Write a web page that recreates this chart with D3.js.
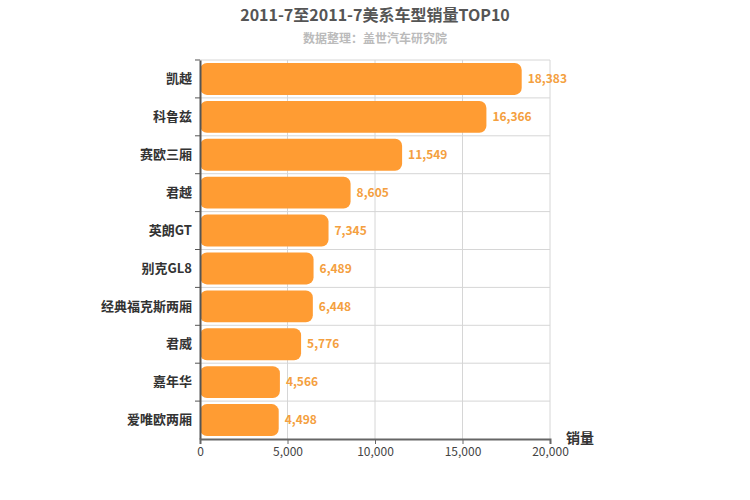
<!DOCTYPE html>
<html><head><meta charset="utf-8">
<script src="https://cdn.jsdelivr.net/npm/d3@7"></script>
<style>body{margin:0;background:#fff}text{font-family:"Noto Sans CJK SC",sans-serif}</style>
</head><body>
<svg width="750" height="500"></svg>
<script>
var models = ["凯越","科鲁兹","赛欧三厢","君越","英朗GT","别克GL8","经典福克斯两厢","君威","嘉年华","爱唯欧两厢"];
var sales = [18383,16366,11549,8605,7345,6489,6448,5776,4566,4498];
var xTicks = [0,5000,10000,15000,20000];

var svg = d3.select("svg"),
    margin = {top: 60, right: 200, bottom: 61, left: 200},
    width = 750 - margin.left - margin.right,
    height = 500 - margin.top - margin.bottom,
    g = svg.append("g").attr("transform", "translate(" + margin.left + "," + margin.top + ")");

var x = d3.scaleLinear().domain([0,20000]).range([0, width]),
    y = d3.scaleBand().domain(models).range([0, height]);

svg.append("text").attr("x", 375).attr("y", 21).attr("text-anchor","middle")
  .style("font-size","16px").style("font-weight","bold").attr("fill","#555")
  .text("2011-7至2011-7美系车型销量TOP10");
svg.append("text").attr("x", 375).attr("y", 43).attr("text-anchor","middle")
  .style("font-size","12px").style("font-weight","bold").attr("fill","#bbb")
  .text("数据整理：盖世汽车研究院");

// grid
g.selectAll(".vg").data(xTicks.slice(1)).enter().append("line")
  .attr("x1", x).attr("x2", x).attr("y1", 0).attr("y2", height)
  .attr("stroke","#d6d6d6");
g.selectAll(".hg").data(models).enter().append("line")
  .attr("x1", 0).attr("x2", width)
  .attr("y1", function(d){ return y(d); }).attr("y2", function(d){ return y(d); })
  .attr("stroke","#d6d6d6");

g.selectAll(".bar").data(sales).enter().append("rect")
  .attr("x", 0)
  .attr("y", function(d,i){ return y(models[i]) + 3; })
  .attr("width", function(d){ return x(d); })
  .attr("height", y.bandwidth() - 6)
  .attr("rx", 7).attr("fill","#ff9c33");

g.selectAll(".val").data(sales).enter().append("text")
  .attr("x", function(d){ return x(d) + 6; })
  .attr("y", function(d,i){ return y(models[i]) + y.bandwidth()/2; })
  .attr("dy","0.35em").style("font-size","12px").style("font-weight","bold")
  .attr("fill","#f4a040").text(d3.format(","));

var ya = g.append("g").call(d3.axisLeft(y).tickSize(5).tickSizeOuter(0));
ya.select(".domain").attr("stroke","#555").attr("stroke-width",2);
ya.selectAll("line").attr("stroke","#555").attr("transform","translate(0," + (-y.bandwidth()/2) + ")");
ya.selectAll("text").style("font-size","13px").style("font-weight","bold").attr("fill","#333");

var xa = g.append("g").attr("transform","translate(0," + height + ")")
  .call(d3.axisBottom(x).tickValues(xTicks).tickFormat(d3.format(",")).tickSize(5));
xa.select(".domain").attr("stroke","#666").attr("stroke-width",2);
xa.selectAll("line").attr("stroke","#666");
xa.selectAll("text").style("font-size","12px").attr("fill","#444");

svg.append("text").attr("x", 580).attr("y", 443).attr("text-anchor","middle")
  .style("font-size","14px").style("font-weight","bold").attr("fill","#333").text("销量");
</script>
</body></html>
